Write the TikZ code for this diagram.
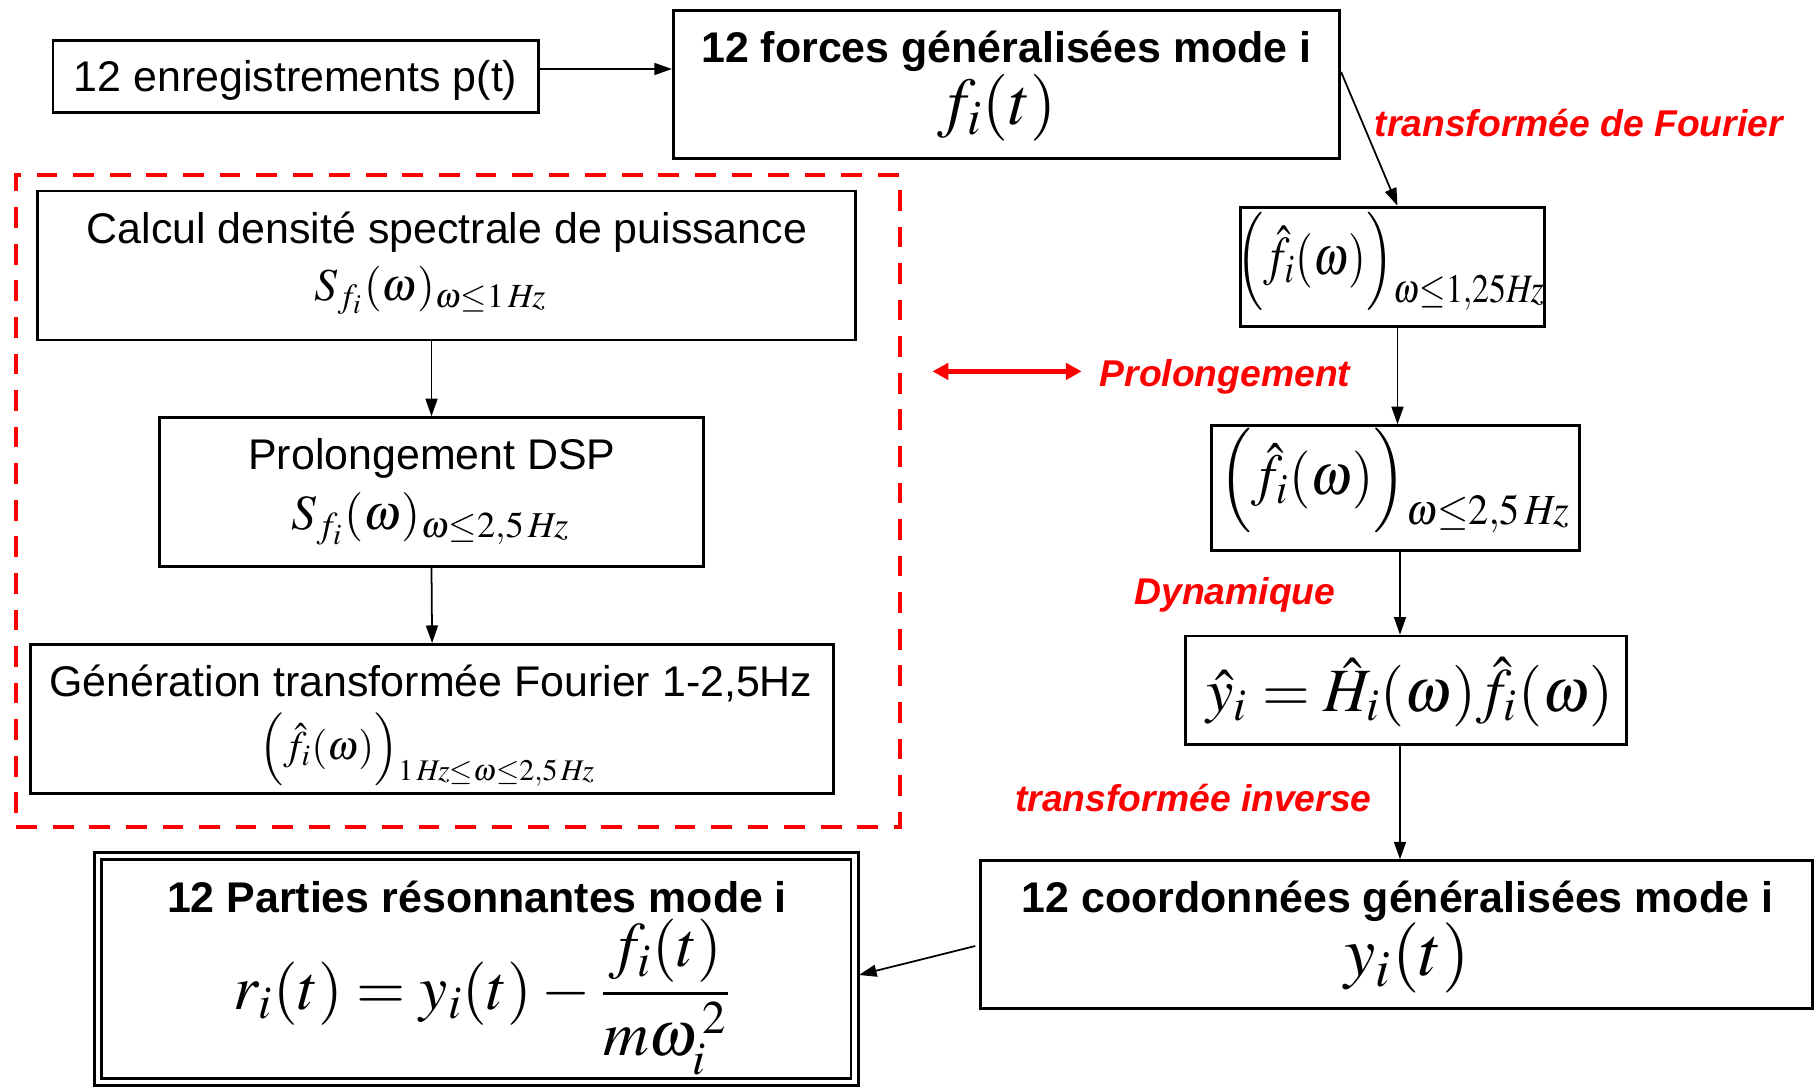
\documentclass[tikz,border=0pt]{standalone}
\usepackage{mathptmx}
\usepackage{graphicx}
\usepackage[no-math]{fontspec}
\setmainfont{Liberation Sans}
\usetikzlibrary{arrows.meta}
\definecolor{lbred}{RGB}{255,0,0}
\newcommand\msz[1]{\fontsize{#1}{#1}\selectfont}
\newcommand\pstrut[2]{\rule[-#1]{0pt}{\dimexpr#1+#2\relax}}
\newcommand\rsub[2]{\raisebox{#1}{$\scriptstyle #2$}}
\begin{document}
\begin{tikzpicture}[x=0.01cm,y=-0.01cm,
  box/.style={draw,line width=0.8pt,rectangle,inner sep=0pt},
  txt/.style={inner sep=0pt,font=\fontsize{12.2}{14}\selectfont},
  btxt/.style={inner sep=0pt,font=\fontsize{12.2}{14}\selectfont\bfseries},
  mth/.style={inner sep=0pt,font=\msz{#1}},
  arr/.style={-{Triangle[length=5pt,width=3.4pt]},line width=0.5pt},
  lab/.style={text=lbred,font=\fontsize{10.6}{12}\selectfont\bfseries\itshape,anchor=west,inner sep=0pt},
  dashbox/.style={draw=lbred,line width=1.2pt,dash pattern=on 5.9pt off 4.5pt,inner sep=0pt},
  redarr/.style={{Triangle[length=4.5pt,width=4.6pt]}-{Triangle[length=4.5pt,width=4.6pt]},draw=lbred,line width=1.2pt}]
\useasboundingbox (0,0) rectangle (1814,1088);

% boxes
\node[box,minimum width=4.85cm,minimum height=0.72cm] (A) at (295.6,76.4) {};
\node[box,minimum width=6.66cm,minimum height=1.48cm] (B) at (1006.5,84.5) {};
\node[box,minimum width=3.04cm,minimum height=1.19cm] (C) at (1392.3,266.7) {};
\node[box,minimum width=3.68cm,minimum height=1.25cm] (D) at (1395.2,488.2) {};
\node[box,minimum width=4.41cm,minimum height=1.08cm] (E) at (1406.2,690.1) {};
\node[box,minimum width=8.31cm,minimum height=1.48cm] (F) at (1396.4,934.8) {};
\node[box,double,double distance=1.3pt,minimum width=7.56cm,minimum height=2.26cm] (G) at (476.4,969) {};
\node[box,minimum width=8.17cm,minimum height=1.49cm] (H) at (446.6,265.5) {};
\node[box,minimum width=5.44cm,minimum height=1.49cm] (I) at (431.5,492.2) {};
\node[box,minimum width=8.02cm,minimum height=1.49cm] (J) at (432.1,719) {};
\node[dashbox,minimum width=8.83cm,minimum height=6.51cm] (R) at (458,501) {};

% texts
\node[txt] (At) at (295.6,80.5) {12 enregistrements p(t)};
\node[btxt] (Bt1) at (1006.5,51.5) {12 forces généralisées mode i};
\node[mth=19] (Bt2) at (996.7,108) {$f_i(t)$};
\node[mth=15.5] (Ct) at (1391,262) {\scalebox{0.84}[1]{$\left(\pstrut{10pt}{15pt}\hat f_i(\omega)\right)_{\rsub{2.6pt}{\omega\le 1{,}25\mathit{Hz}}}$}};
\node[mth=16.5] (Dt) at (1395,482) {\scalebox{0.94}[1]{$\left(\pstrut{11pt}{17pt}\hat f_i(\omega)\right)_{\rsub{3.2pt}{\omega\le 2{,}5\,\mathit{Hz}}}$}};
\node[mth=17.5] (Et) at (1410,692) {$\hat y_i=\hat H_i(\omega)\hat f_i(\omega)$};
\node[btxt] (Ft1) at (1397.5,901.5) {12 coordonnées généralisées mode i};
\node[mth=20] (Ft2) at (1407,958) {$y_i(t)$};
\node[btxt] (Gt1) at (477,897) {12 Parties résonnantes mode i};
\node[mth=18] (Gt2) at (483,997) {$\displaystyle r_i(t)=y_i(t)-\frac{f_i(t)}{m\omega_i^{\,2}}$};
\node[txt] (Ht1) at (447,232.5) {Calcul densité spectrale de puissance};
\node[mth=13] (Ht2) at (431,290) {$S_{f_i}(\omega)_{\omega\le 1\,\mathit{Hz}}$};
\node[txt] (It1) at (432,458.5) {Prolongement DSP};
\node[mth=14] (It2) at (431,519) {$S_{f_i}(\omega)_{\omega\le 2{,}5\,\mathit{Hz}}$};
\node[txt] (Jt1) at (431,683.5) {Génération transformée Fourier 1-2,5Hz};
\node[mth=11.5] (Jt2) at (427.5,750) {$\left(\pstrut{7pt}{13pt}\hat f_i(\omega)\right)_{\rsub{2pt}{1\,\mathit{Hz}\le\omega\le 2{,}5\,\mathit{Hz}}}$};

% labels
\node[lab] (L1) at (1374,122.6) {transformée de Fourier};
\node[lab] (L2) at (1099,377) {Prolongement};
\node[lab] (L3) at (1133.8,594.5) {Dynamique};
\node[lab] (L4) at (1014.6,798) {transformée inverse};

% helper coordinates
\coordinate (yab) at (0,69);
\coordinate (ybc) at (0,72);
\coordinate (xc) at (1397.5,0);
\coordinate (xr) at (1400,0);
\coordinate (yf) at (0,946);
\coordinate (yg) at (0,975);
\coordinate (p1) at (932.5,371.4);
\coordinate (p2) at (1081.7,371.4);

% connectors
\draw[arr] (A.east |- yab) -- (B.west |- yab);
\draw[arr] (B.east |- ybc) -- (C.north -| xc);
\draw[arr] (C.south -| xc) -- (D.north -| xc);
\draw[arr] (D.south -| xr) -- (E.north -| xr);
\draw[arr] (E.south -| xr) -- (F.north -| xr);
\draw[arr] (H.south -| I.north) -- (I.north);
\draw[arr] (I.south) -- (J.north);
\draw[arr] ([xshift=-0.04cm]F.west |- yf) -- ([xshift=0.03cm]G.east |- yg);
\draw[redarr] (p1) -- (p2);
\end{tikzpicture}
\end{document}
